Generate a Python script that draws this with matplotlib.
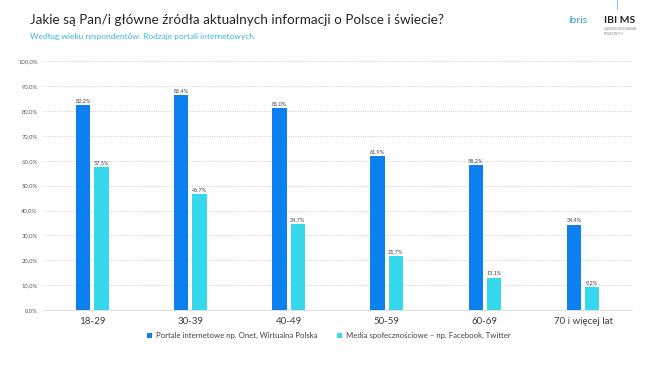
import numpy as np
import matplotlib.pyplot as plt
from matplotlib.ticker import FuncFormatter

plt.rcParams['font.family'] = ['Lato', 'DejaVu Sans']

kategorie = ['18-29', '30-39', '40-49', '50-59', '60-69', '70 i więcej lat']
portale = [82.2, 86.4, 81.0, 61.9, 58.2, 34.4]
media = [57.5, 46.7, 34.7, 21.7, 13.1, 9.2]

kolor_portale = '#0B80EE'
kolor_media = '#36D8EE'

fig = plt.figure(figsize=(6.55, 3.68), dpi=100)
ax = fig.add_axes([0.066, 0.157, 0.899, 0.677])

x = np.arange(len(kategorie))
w = 0.145
b1 = ax.bar(x - 0.093, portale, w, color=kolor_portale, zorder=3,
            label='Portale internetowe np. Onet, Wirtualna Polska')
b2 = ax.bar(x + 0.093, media, w, color=kolor_media, zorder=3,
            label='Media społecznościowe – np. Facebook, Twitter')

def fmt(v):
    return f'{v:.1f}%'.replace('.', ',')

for bars, vals in ((b1, portale), (b2, media)):
    for r, v in zip(bars, vals):
        ax.text(r.get_x() + r.get_width() / 2, v + 0.8, fmt(v), ha='center', va='bottom',
                fontsize=4, color='#404040')

ax.set_xlim(-0.5, len(kategorie) - 0.5)
ax.set_ylim(0, 100)
ax.set_yticks(np.arange(0, 101, 10))
ax.yaxis.set_major_formatter(FuncFormatter(lambda v, p: fmt(v)))
ax.set_xticks(x)
ax.set_xticklabels(kategorie, fontsize=7, color='#404040')
ax.tick_params(axis='y', labelsize=4.2, labelcolor='#595959', length=0, pad=4)
ax.tick_params(axis='x', length=0, pad=5)
ax.grid(axis='y', color='#C8C8C8', linestyle=(0, (1.2, 1.5)), linewidth=0.6, zorder=0)
for s in ['top', 'right', 'left']:
    ax.spines[s].set_visible(False)
ax.spines['bottom'].set_color('#D9D9D9')
ax.spines['bottom'].set_linewidth(0.6)

leg = ax.legend(loc='upper center', bbox_to_anchor=(0.485, -0.06), ncol=2, frameon=False,
                fontsize=5.6, handlelength=0.6, handleheight=0.6, columnspacing=2.6,
                handletextpad=0.5)
for t in leg.get_texts():
    t.set_color('#404040')

fig.text(0.046, 0.935, 'Jakie są Pan/i główne źródła aktualnych informacji o Polsce i świecie?',
         fontsize=9.7, color='#262626')
fig.text(0.046, 0.895, 'Według wieku respondentów. Rodzaje portali internetowych',
         fontsize=6, color='#3AB6D6')

# logotypy
fig.text(0.868, 0.938, 'ibris', fontsize=7.5, color='#3A9AD0')
fig.text(0.922, 0.938, 'IBI MS', fontsize=7.5, color='#262626', fontweight='bold')
fig.text(0.922, 0.905, 'LABORATORIUM BADAŃ\nSPOŁECZNYCH', fontsize=2, color='#808080',
         linespacing=1.2)
fig.lines.append(plt.Line2D([0.942, 0.942], [0.975, 1.0], transform=fig.transFigure,
                            color='#9BC8E6', linewidth=0.8))

plt.savefig('out.png', dpi=100)
